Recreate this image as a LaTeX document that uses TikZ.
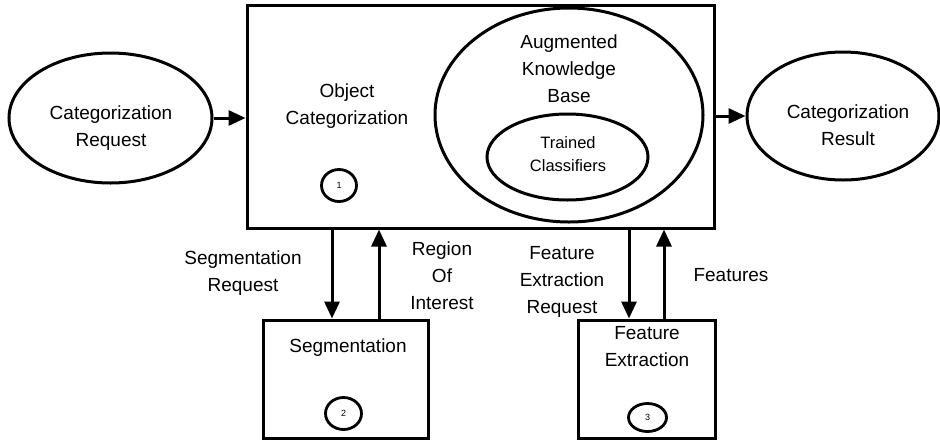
\documentclass[tikz,border=0pt]{standalone}
\usepackage{fontspec}
\setmainfont{Liberation Sans}
\usetikzlibrary{arrows.meta,shapes.geometric}
\begin{document}
\begin{tikzpicture}[x=1pt,y=-1pt,
  box/.style={draw,line width=3pt,rectangle,inner sep=0pt},
  oval/.style={draw,line width=3pt,ellipse,inner sep=0pt},
  num/.style={draw,line width=2.8pt,ellipse,inner sep=0pt,font=\fontsize{9}{10}\selectfont},
  txt/.style={align=center,inner sep=0pt,font=\fontsize{19}{27}\selectfont},
  stxt/.style={align=center,inner sep=0pt,font=\fontsize{16.5}{23}\selectfont},
  arr/.style={line width=3pt,-{Triangle[length=17pt,width=15pt]}}]
\useasboundingbox (0,0) rectangle (940,440);
% shapes
\node[box,minimum width=467pt,minimum height=223pt] (main) at (480.5,116.5) {};
\node[oval,minimum width=268pt,minimum height=214pt] (akb) at (569,115) {};
\node[oval,minimum width=161pt,minimum height=86pt] (tc) at (567.5,157) {};
\node[num,minimum width=35pt,minimum height=32pt] (n1) at (339,185.5) {1};
\node[oval,minimum width=203pt,minimum height=130pt] (req) at (110.5,118) {};
\node[oval,minimum width=192pt,minimum height=128pt] (res) at (843,116) {};
\node[box,minimum width=165pt,minimum height=118pt] (seg) at (345.5,379) {};
\node[box,minimum width=137pt,minimum height=118pt] (fe) at (646.5,379) {};
\node[num,minimum width=36pt,minimum height=32pt] (n2) at (343.5,413.5) {2};
\node[num,minimum width=38pt,minimum height=28pt] (n3) at (647.5,417.5) {3};
% texts
\node[txt] (reqt) at (111,127.6) {Categorization\\Request};
\node[txt] (rest) at (848,125) {Categorization\\Result};
\node[txt] (maint) at (347,105.6) {Object\\Categorization};
\node[txt] (akbt) at (569,69) {Augmented\\Knowledge\\Base};
\node[stxt] (tct) at (568,154.5) {Trained\\Classifiers};
\node[txt] (segt) at (348,348) {Segmentation};
\node[txt] (fet) at (647,346.5) {Feature\\Extraction};
\node[txt] (l1) at (243,273.5) {Segmentation\\Request};
\node[txt] (l2) at (442,275.5) {Region\\Of\\Interest};
\node[txt] (l3) at (562,281.5) {Feature\\Extraction\\Request};
\node[txt] (l4) at (731,275) {Features};
% connector columns
\coordinate (c1) at (332,0);
\coordinate (c2) at (379,0);
\coordinate (c3) at (629,0);
\coordinate (c4) at (664,0);
% connectors
\draw[arr] (req.east) -- (req.east -| main.west);
\draw[arr] (main.east |- res.west) -- (res.west);
\draw[arr] (main.south -| c1) -- (seg.north -| c1);
\draw[arr] (seg.north -| c2) -- (main.south -| c2);
\draw[arr] (main.south -| c3) -- (fe.north -| c3);
\draw[arr] (fe.north -| c4) -- (main.south -| c4);
\end{tikzpicture}
\end{document}
